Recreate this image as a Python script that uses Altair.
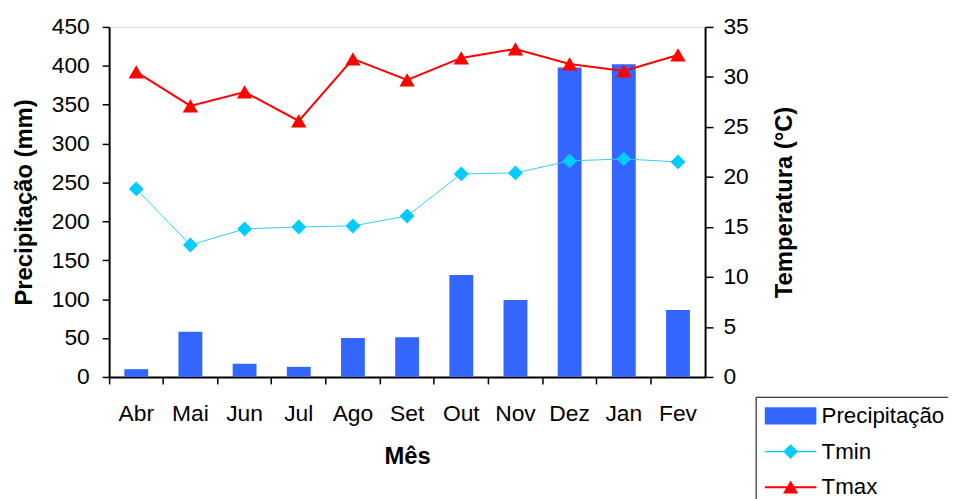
import altair as alt
import pandas as pd

meses = ["Abr", "Mai", "Jun", "Jul", "Ago", "Set", "Out", "Nov", "Dez", "Jan", "Fev"]
precipitacao = [10, 58, 17, 13, 50, 51, 131, 99, 398, 402, 86]
tmin = [18.8, 13.2, 14.8, 15.0, 15.1, 16.1, 20.3, 20.4, 21.6, 21.8, 21.5]
tmax = [30.5, 27.1, 28.5, 25.6, 31.8, 29.7, 31.9, 32.8, 31.3, 30.6, 32.2]
series = ["Precipitação", "Tmin", "Tmax"]
colors = ["#3366FF", "#00CCFF", "#FF0000"]

FONT = "Liberation Sans"
LBL = 23

df_p = pd.DataFrame({"mes": meses, "prec": precipitacao})
df_t = pd.DataFrame(
    {"mes": meses * 2, "serie": ["Tmin"] * len(meses) + ["Tmax"] * len(meses), "temp": tmin + tmax}
)

x_axis = alt.Axis(
    title="Mês", labelAngle=0, bandPosition=0, tickSize=7, labelPadding=19,
    labelFont=FONT, labelFontSize=LBL, labelColor="black",
    titleFont=FONT, titleFontSize=24, titleFontWeight="bold", titleColor="black", titlePadding=19,
    domainColor="black", domainWidth=2, tickColor="black", tickWidth=1.5,
)
x_enc = alt.X("mes:N", sort=meses, axis=x_axis, scale=alt.Scale(paddingInner=0, paddingOuter=0))

bars = alt.Chart(df_p).mark_bar(color="#3366FF", width=alt.RelativeBandSize(0.44)).encode(
    x=x_enc,
    y=alt.Y(
        "prec:Q",
        scale=alt.Scale(domain=[0, 450], nice=False),
        axis=alt.Axis(
            title="Precipitação (mm)", orient="left", values=list(range(0, 451, 50)), grid=False,
            tickSize=7, labelPadding=13, labelFont=FONT, labelFontSize=LBL, labelColor="black",
            titleFont=FONT, titleFontSize=24, titleFontWeight="bold", titleColor="black", titlePadding=15,
            domainColor="black", domainWidth=2, tickColor="black", tickWidth=1.5,
        ),
    ),
)

y_t = alt.Y(
    "temp:Q",
    scale=alt.Scale(domain=[0, 35], nice=False),
    axis=alt.Axis(
        title="Temperatura (°C)", orient="right", values=list(range(0, 36, 5)), grid=False,
        tickSize=8, labelPadding=10, labelFont=FONT, labelFontSize=LBL, labelColor="black",
        titleFont=FONT, titleFontSize=24, titleFontWeight="bold", titleColor="black",
        titleAngle=270, titleBaseline="top", titlePadding=25,
        domainColor="black", domainWidth=2, tickColor="black", tickWidth=1.5,
    ),
)

base_t = alt.Chart(df_t).encode(x=x_enc, y=y_t)

tmin_line = base_t.transform_filter("datum.serie == 'Tmin'").mark_line(color="#33CCFF", strokeWidth=1)
tmin_pts = base_t.transform_filter("datum.serie == 'Tmin'").mark_point(
    shape="diamond", filled=True, color="#00CCFF", size=225, opacity=1
)
tmax_line = base_t.transform_filter("datum.serie == 'Tmax'").mark_line(color="#FF0000", strokeWidth=2)
tmax_pts = base_t.transform_filter("datum.serie == 'Tmax'").mark_point(
    shape="triangle-up", filled=True, color="#FF0000", size=240, opacity=1
)

leg = alt.Legend(
    title=None, orient="none", legendX=652, legendY=373, strokeColor="black", fillColor="white",
    padding=8, labelFont=FONT, labelFontSize=22.5, labelColor="black", symbolSize=400,
    symbolOffset=16, labelOffset=20, rowPadding=13, cornerRadius=0, symbolStrokeWidth=0,
)
paths = [
    "M-2.6,-0.88H2.6V0.88H-2.6Z",
    "M-2.6,-0.06H2.6V0.06H-2.6Z M0,-0.75L0.75,0L0,0.75L-0.75,0Z",
    "M-2.6,-0.1H2.6V0.1H-2.6Z M0,-0.68L0.76,0.62L-0.76,0.62Z",
]
legend_layer = base_t.transform_filter("false").mark_point(filled=True, opacity=1).encode(
    fill=alt.Fill("serie:N", scale=alt.Scale(domain=series, range=["#3366FF", "#00CCFF", "#FF0000"]), legend=leg),
    shape=alt.Shape("serie:N", scale=alt.Scale(domain=series, range=paths), legend=leg),
)

temps = alt.layer(tmin_line, tmax_line, tmin_pts, tmax_pts, legend_layer)

chart = (
    alt.layer(bars, temps)
    .resolve_scale(y="independent")
    .properties(
        width=601, height=353,
        autosize=alt.AutoSizeParams(type="none"),
        padding={"left": 102, "top": 17, "right": 245, "bottom": 121},
    )
    .configure_view(stroke="#808080", strokeWidth=2)
    .configure(background="white")
)

chart.save("out.html", embed_options={"renderer": "svg", "actions": False})
